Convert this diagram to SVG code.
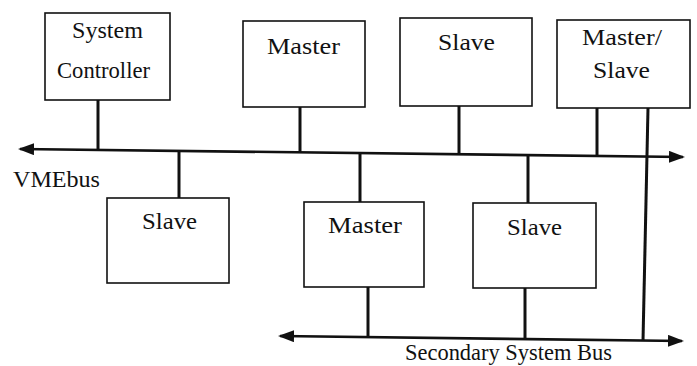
<svg xmlns="http://www.w3.org/2000/svg" width="697" height="366" viewBox="0 0 697 366">
<style>
.box{fill:#fff;stroke:#111;stroke-width:1.6}
.lbl{font-family:"Liberation Serif","Times New Roman",serif;font-size:23px;fill:#111}
.wire{stroke:#111;stroke-width:3;fill:none}
.bus{stroke:#111;stroke-width:2.6;fill:none}
</style>
<defs>
<marker id="ah" viewBox="0 0 16 12" refX="14" refY="6" markerWidth="16" markerHeight="12" markerUnits="userSpaceOnUse" orient="auto-start-reverse">
<path d="M0,0 L16,6 L0,12 Z" fill="#111"/>
</marker>
</defs>
<rect width="697" height="366" fill="#fff"/>
<g id="connectors">
<line class="bus" x1="20" y1="149" x2="683" y2="157" marker-start="url(#ah)" marker-end="url(#ah)"/>
<line class="bus" x1="280" y1="336" x2="682" y2="341" marker-start="url(#ah)" marker-end="url(#ah)"/>
<line class="wire" x1="98" y1="100" x2="98" y2="149"/>
<line class="wire" x1="300" y1="107" x2="300" y2="152"/>
<line class="wire" x1="459" y1="106" x2="459" y2="154"/>
<line class="wire" x1="597" y1="108" x2="597" y2="155"/>
<line class="wire" x1="648" y1="108" x2="643" y2="341"/>
<line class="wire" x1="179" y1="151" x2="179" y2="198"/>
<line class="wire" x1="360" y1="153" x2="360" y2="202"/>
<line class="wire" x1="528" y1="154" x2="528" y2="203"/>
<line class="wire" x1="368" y1="287" x2="368" y2="337"/>
<line class="wire" x1="525" y1="288" x2="525" y2="339"/>
</g>
<g id="sysctrl">
<rect class="box" x="45" y="13" width="125" height="87"/>
<text class="lbl" x="72" y="38" textLength="71" lengthAdjust="spacingAndGlyphs">System</text>
<text class="lbl" x="57" y="78" textLength="93" lengthAdjust="spacingAndGlyphs">Controller</text>
</g>
<g id="master1">
<rect class="box" x="243" y="21" width="122" height="86"/>
<text class="lbl" x="267" y="54" textLength="73" lengthAdjust="spacingAndGlyphs">Master</text>
</g>
<g id="slave1">
<rect class="box" x="400" y="18" width="132" height="88"/>
<text class="lbl" x="438" y="50" textLength="57" lengthAdjust="spacingAndGlyphs">Slave</text>
</g>
<g id="masterslave">
<rect class="box" x="557" y="20" width="133" height="88"/>
<text class="lbl" x="582" y="45" textLength="80" lengthAdjust="spacingAndGlyphs">Master/</text>
<text class="lbl" x="593" y="78" textLength="57" lengthAdjust="spacingAndGlyphs">Slave</text>
</g>
<g id="slave2">
<rect class="box" x="107" y="198" width="122" height="85"/>
<text class="lbl" x="142" y="229" textLength="55" lengthAdjust="spacingAndGlyphs">Slave</text>
</g>
<g id="master2">
<rect class="box" x="304" y="202" width="120" height="85"/>
<text class="lbl" x="328" y="233" textLength="74" lengthAdjust="spacingAndGlyphs">Master</text>
</g>
<g id="slave3">
<rect class="box" x="473" y="203" width="123" height="85"/>
<text class="lbl" x="507" y="235" textLength="55" lengthAdjust="spacingAndGlyphs">Slave</text>
</g>
<g id="labels">
<text class="lbl" x="13" y="187" font-size="21" textLength="87" lengthAdjust="spacingAndGlyphs">VMEbus</text>
<text class="lbl" x="405" y="360" font-size="21" textLength="207" lengthAdjust="spacingAndGlyphs">Secondary System Bus</text>
</g>
</svg>
